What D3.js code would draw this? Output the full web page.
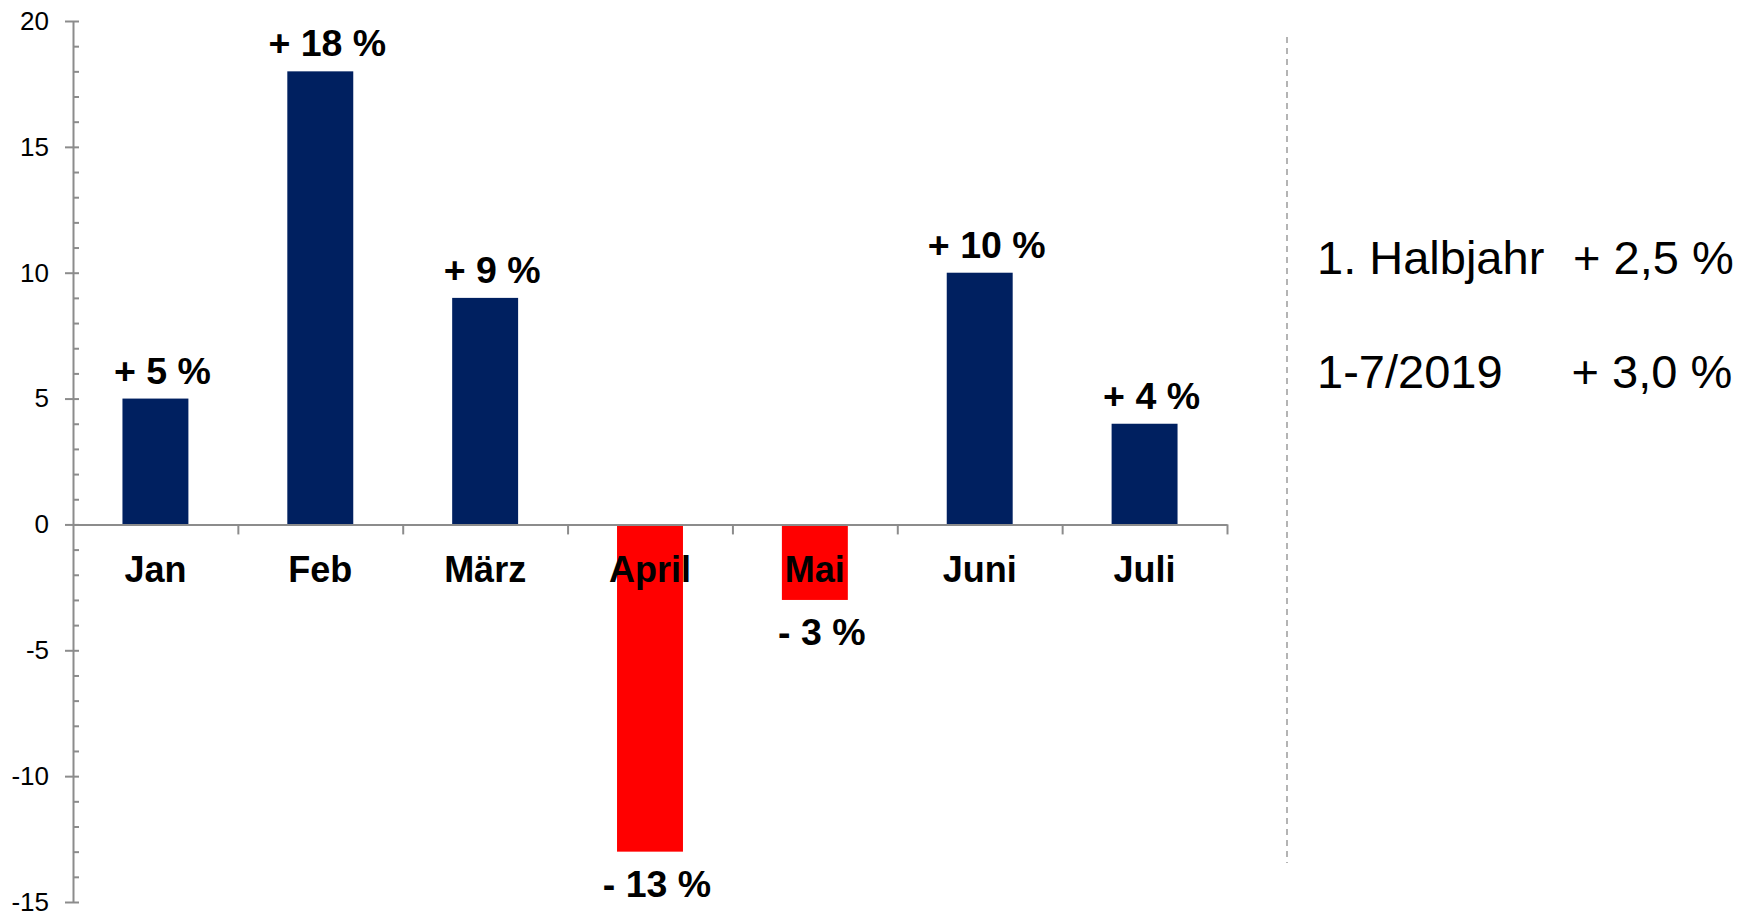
<!DOCTYPE html>
<html>
<head>
<meta charset="utf-8">
<script src="https://cdn.jsdelivr.net/npm/d3@7"></script>
<style>
  html, body { margin: 0; padding: 0; background: #fff; }
  svg { display: block; }
  text { font-family: "Liberation Sans", Arial, sans-serif; }
</style>
</head>
<body>
<svg id="chart" width="1753" height="912"></svg>
<script>
// ---- data ----
const months = ["Jan", "Feb", "März", "April", "Mai", "Juni", "Juli"];
const changes = [5, 18, 9, -13, -3, 10, 4];
const valueLabels = ["+ 5 %", "+ 18 %", "+ 9 %", "- 13 %", "- 3 %", "+ 10 %", "+ 4 %"];
const yTickValues = [-15, -10, -5, 0, 5, 10, 15, 20];
const yTickLabels = ["-15", "-10", "-5", "0", "5", "10", "15", "20"];
const summaryLabels = ["1. Halbjahr", "1-7/2019"];
const summaryValues = ["+ 2,5 %", "+ 3,0 %"];

// ---- layout ----
const W = 1753, H = 912;
const plot = { left: 73, right: 1227, top: 21, bottom: 902 };
const navy = "#002060", red = "#FF0000", axisGray = "#8c8c8c";

const svg = d3.select("#chart");

const x = d3.scaleBand().domain(months).range([plot.left, plot.right]).padding(0);
const xEdges = d3.scaleLinear().domain([0, months.length]).range([plot.left, plot.right]);
const y = d3.scaleLinear().domain([-15, 20]).range([plot.bottom, plot.top]);

const barW = x.bandwidth() * 0.4;
const data = months.map((m, i) => ({ m, v: changes[i], label: valueLabels[i] }));

// bars
svg.append("g").selectAll("rect").data(data).join("rect")
  .attr("x", d => x(d.m) + (x.bandwidth() - barW) / 2)
  .attr("y", d => y(Math.max(0, d.v)))
  .attr("width", barW)
  .attr("height", d => Math.abs(y(d.v) - y(0)))
  .attr("fill", d => d.v >= 0 ? navy : red);

// y axis (major ticks crossing, minor ticks inside)
const yAxis = svg.append("g").attr("transform", `translate(${plot.left},0)`)
  .call(d3.axisLeft(y).tickValues(yTickValues)
    .tickFormat((d, i) => yTickLabels[i])
    .tickSizeInner(8).tickSizeOuter(0).tickPadding(16));
yAxis.select(".domain").attr("stroke", axisGray).attr("stroke-width", 2);
yAxis.selectAll(".tick line").attr("stroke", axisGray).attr("stroke-width", 2);
yAxis.selectAll(".tick text").attr("font-size", 26).attr("fill", "#000")
  .style("font-family", '"Liberation Sans", Arial, sans-serif');

const yMinor = svg.append("g").attr("transform", `translate(${plot.left},0)`)
  .call(d3.axisRight(y).tickValues(d3.range(-15, 21)).tickSize(6).tickFormat(""));
yMinor.select(".domain").remove();
yMinor.selectAll(".tick line").attr("stroke", axisGray).attr("stroke-width", 2);

// x axis at zero
const xAxis = svg.append("g").attr("transform", `translate(0,${y(0)})`)
  .call(d3.axisBottom(xEdges).tickValues(d3.range(1, months.length + 1)).tickSizeInner(10).tickSizeOuter(0).tickFormat(""));
xAxis.select(".domain").attr("stroke", axisGray).attr("stroke-width", 2);
xAxis.selectAll(".tick line").attr("stroke", axisGray).attr("stroke-width", 2);

// category labels (drawn over the bars)
svg.append("g").selectAll("text").data(data).join("text")
  .attr("x", d => x(d.m) + x.bandwidth() / 2)
  .attr("y", y(0) + 58)
  .attr("text-anchor", "middle")
  .attr("font-size", 36)
  .attr("font-weight", "bold")
  .attr("fill", "#000")
  .text(d => d.m);

// value labels
svg.append("g").selectAll("text").data(data).join("text")
  .attr("x", d => x(d.m) + x.bandwidth() / 2 + 7)
  .attr("y", d => d.v >= 0 ? y(d.v) - 15 : y(d.v) + 45)
  .attr("text-anchor", "middle")
  .attr("font-size", 37.5)
  .attr("font-weight", "bold")
  .attr("fill", "#000")
  .text(d => d.label);

// dashed separator
svg.append("line")
  .attr("x1", 1287).attr("x2", 1287)
  .attr("y1", 37).attr("y2", 863)
  .attr("stroke", "#b4b4b4").attr("stroke-width", 2)
  .attr("stroke-dasharray", "6,5");

// summary texts
const summaryY = [274, 388];
summaryLabels.forEach((t, i) => {
  svg.append("text").attr("x", 1317).attr("y", summaryY[i])
    .attr("font-size", 47).attr("fill", "#000").text(t);
  svg.append("text").attr("x", 1573 - i * 1.5).attr("y", summaryY[i])
    .attr("font-size", 47).attr("fill", "#000").text(summaryValues[i]);
});
</script>
</body>
</html>
